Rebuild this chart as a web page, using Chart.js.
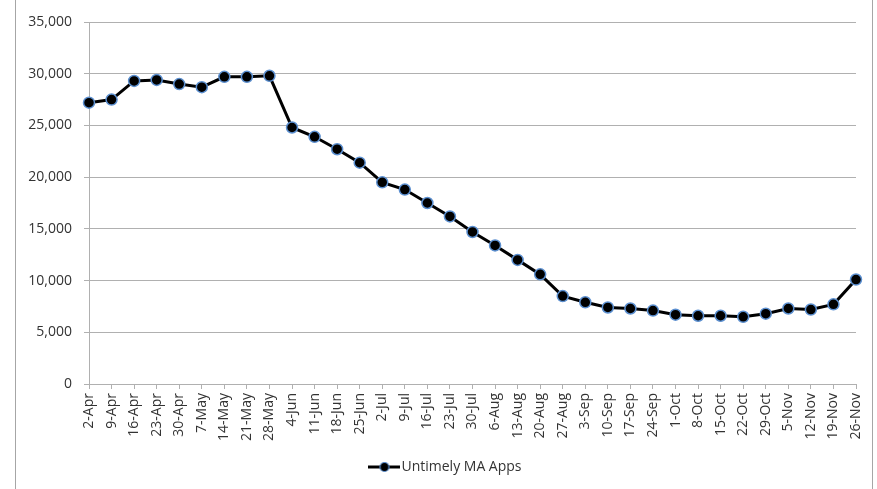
<!DOCTYPE html>
<html>
<head>
<meta charset="utf-8">
<script src="https://cdn.jsdelivr.net/npm/chart.js@4"></script>
<style>
  html, body { margin: 0; padding: 0; background: #fff; }
  #wrap { position: relative; width: 877px; height: 489px; }
</style>
</head>
<body>
<div id="wrap"><canvas id="chart" width="877" height="489"></canvas></div>
<script>
// weekly dates
const weeks = [
  '2-Apr', '9-Apr', '16-Apr', '23-Apr', '30-Apr',
  '7-May', '14-May', '21-May', '28-May',
  '4-Jun', '11-Jun', '18-Jun', '25-Jun',
  '2-Jul', '9-Jul', '16-Jul', '23-Jul', '30-Jul',
  '6-Aug', '13-Aug', '20-Aug', '27-Aug',
  '3-Sep', '10-Sep', '17-Sep', '24-Sep',
  '1-Oct', '8-Oct', '15-Oct', '22-Oct', '29-Oct',
  '5-Nov', '12-Nov', '19-Nov', '26-Nov'
];

const untimelyApps = [
  27200, 27500, 29300, 29400, 29000,
  28700, 29700, 29700, 29800,
  24800, 23900, 22700, 21400,
  19500, 18800, 17500, 16200, 14700,
  13400, 12000, 10600, 8500,
  7900, 7400, 7300, 7100,
  6700, 6600, 6600, 6500, 6800,
  7300, 7200, 7700, 10100
];

const yTicks = [0, 5000, 10000, 15000, 20000, 25000, 30000, 35000];

const seriesName = 'Untimely MA Apps';
const lineColor = '#000000';
const ringColor = '#5b8fd0';
const gridColor = '#b0b0b0';
const textColor = '#333333';
const fontFamily = '"Open Sans", "DejaVu Sans", sans-serif';

// legend marker: short line with a dot in the middle
function makeLegendMarker() {
  const c = document.createElement('canvas');
  c.width = 32;
  c.height = 14;
  const g = c.getContext('2d');
  g.strokeStyle = lineColor;
  g.lineWidth = 3;
  g.beginPath();
  g.moveTo(0, 7);
  g.lineTo(32, 7);
  g.stroke();
  g.beginPath();
  g.arc(16, 7, 4.5, 0, Math.PI * 2);
  g.fillStyle = lineColor;
  g.fill();
  g.lineWidth = 1.2;
  g.strokeStyle = ringColor;
  g.stroke();
  return c;
}
const legendMarker = makeLegendMarker();

// the outer frame lines of the chart box
const frame = {
  id: 'frame',
  beforeDraw(chart) {
    const ctx = chart.ctx;
    ctx.save();
    ctx.strokeStyle = '#a6a6a6';
    ctx.lineWidth = 1;
    ctx.beginPath();
    ctx.moveTo(15.5, 0);
    ctx.lineTo(15.5, chart.height);
    ctx.moveTo(872.5, 0);
    ctx.lineTo(872.5, chart.height);
    ctx.stroke();
    ctx.restore();
  }
};

// legend is centred on the frame, not on the canvas
const legendShift = {
  id: 'legendShift',
  afterLayout(chart) {
    if (chart.legend) {
      chart.legend.left += 20;
      chart.legend.right += 20;
    }
  }
};

Chart.defaults.font.family = fontFamily;
Chart.defaults.font.size = 14;
Chart.defaults.color = textColor;

new Chart(document.getElementById('chart'), {
  type: 'line',
  data: {
    labels: weeks,
    datasets: [{
      label: seriesName,
      data: untimelyApps,
      borderColor: lineColor,
      borderWidth: 3,
      backgroundColor: lineColor,
      pointBackgroundColor: lineColor,
      pointBorderColor: ringColor,
      pointBorderWidth: 1.5,
      pointRadius: 5.5,
      tension: 0,
      fill: false
    }]
  },
  options: {
    responsive: false,
    animation: false,
    devicePixelRatio: 1,
    layout: {
      padding: { left: 0, right: 21, top: 22, bottom: 5 }
    },
    plugins: {
      title: { display: false },
      tooltip: { enabled: false },
      legend: {
        position: 'bottom',
        labels: {
          usePointStyle: true,
          pointStyleWidth: 20,
          padding: 10,
          font: { size: 14 },
          color: textColor,
          generateLabels: () => [{
            text: seriesName,
            pointStyle: legendMarker,
            fillStyle: lineColor,
            strokeStyle: lineColor,
            lineWidth: 0,
            hidden: false,
            datasetIndex: 0,
            fontColor: textColor
          }]
        }
      }
    },
    scales: {
      x: {
        offset: false,
        grid: {
          drawOnChartArea: false,
          drawTicks: true,
          tickLength: 5,
          color: gridColor
        },
        border: { color: gridColor },
        ticks: {
          autoSkip: false,
          minRotation: 90,
          maxRotation: 90,
          padding: 4,
          font: { size: 14 }
        },
        afterFit(scale) { scale.height = 66; }
      },
      y: {
        min: 0,
        max: 35000,
        afterBuildTicks(scale) {
          scale.ticks = yTicks.map(v => ({ value: v }));
        },
        grid: {
          color: gridColor,
          tickLength: 5
        },
        border: { color: gridColor },
        ticks: {
          padding: 12,
          font: { size: 14 },
          callback: v => v.toLocaleString('en-US')
        },
        afterFit(scale) { scale.width = 89; }
      }
    }
  },
  plugins: [frame, legendShift]
});
</script>
</body>
</html>
